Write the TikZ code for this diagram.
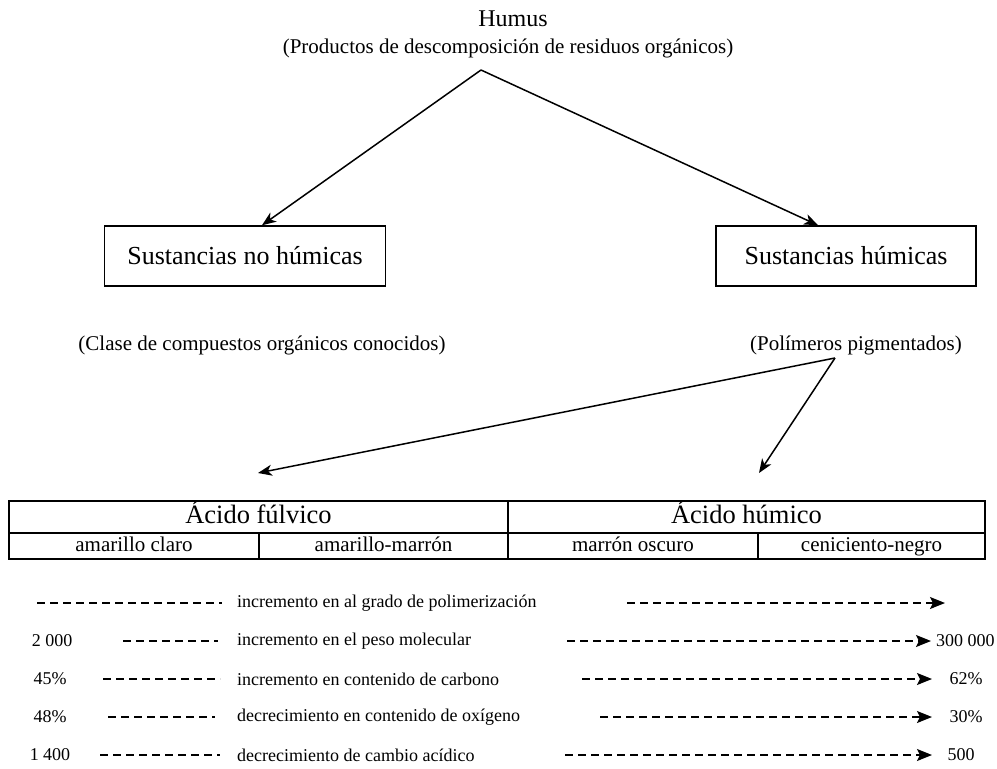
\documentclass[tikz,border=0pt]{standalone}
\usepackage{fontspec}
\setmainfont{Liberation Serif}
\usetikzlibrary{arrows.meta}
\begin{document}
\begin{tikzpicture}[x=1pt,y=-1pt,
  arr/.style={line width=1.5pt, -{Stealth[length=14pt,width=11pt,inset=4pt]}},
  dsh/.style={line width=1.4pt, dash pattern=on 8pt off 5pt},
  darr/.style={dsh, -{Stealth[length=15pt,width=12pt,inset=3pt]}},
  box/.style={draw, line width=1.5pt, minimum height=60pt, inner sep=0pt, font=\fontsize{26}{30}\selectfont},
  cellA/.style={draw, line width=1.5pt, minimum height=32pt, inner sep=0pt, text height=19pt, text depth=6pt, font=\fontsize{26.5}{30}\selectfont},
  cellB/.style={draw, line width=1.5pt, minimum height=26pt, inner sep=0pt, text height=15pt, text depth=5pt, font=\fontsize{21}{24}\selectfont},
  sub/.style={font=\fontsize{21}{24}\selectfont, inner sep=0pt},
  lst/.style={font=\fontsize{18}{20}\selectfont, inner sep=0pt},
]
\useasboundingbox (0,0) rectangle (997,769);

\node[font=\fontsize{24}{28}\selectfont, inner sep=0pt] (humus) at (513,19) {Humus};
\node[sub] (prod) at (508,48) {(Productos de descomposición de residuos orgánicos)};
\coordinate (apex) at (481,70);

\node[box, minimum width=281pt] (b1) at (245,256) {Sustancias no húmicas};
\node[box, minimum width=260pt] (b2) at (846,256) {Sustancias húmicas};
\draw[arr] (apex) -- ([xshift=17pt]b1.north);
\draw[arr] (apex) -- ([xshift=-28pt]b2.north);

\node[sub] (clase) at (262,345) {(Clase de compuestos orgánicos conocidos)};
\node[sub] (polim) at (856,345) {(Polímeros pigmentados)};
\coordinate (apex2) at (835,358);
\coordinate (tipf) at (258,473);
\coordinate (tiph) at (759,473);
\draw[arr] (apex2) -- (tipf);
\draw[arr] (apex2) -- (tiph);

\node[cellA, minimum width=499pt] (fulv) at (258.5,517) {Ácido fúlvico};
\node[cellA, minimum width=477pt] (hum) at (746.5,517) {Ácido húmico};
\node[cellB, minimum width=250pt] (c1) at (134,546) {amarillo claro};
\node[cellB, minimum width=249pt] (c2) at (383.5,546) {amarillo-marrón};
\node[cellB, minimum width=250pt] (c3) at (633,546) {marrón oscuro};
\node[cellB, minimum width=227pt] (c4) at (871.5,546) {ceniciento-negro};

% row 1
\coordinate (l1a) at (37,603); \coordinate (l1b) at (222,603);
\draw[dsh] (l1a) -- (l1b);
\node[lst, anchor=west] (t1) at (237,603) {incremento en al grado de polimerización};
\coordinate (r1a) at (627,603); \coordinate (r1b) at (945,603);
\draw[darr] (r1a) -- (r1b);
% row 2
\node[lst] (v2) at (52,641) {2 000};
\coordinate (l2a) at (123,641); \coordinate (l2b) at (218,641);
\draw[dsh] (l2a) -- (l2b);
\node[lst, anchor=west] (t2) at (237,641) {incremento en el peso molecular};
\node[lst, anchor=west] (w2) at (936,641) {300 000};
\coordinate (r2a) at (567,641);
\draw[darr] (r2a) -- ([xshift=-5pt]w2.west);
% row 3
\node[lst] (v3) at (50,679) {45\%};
\coordinate (l3a) at (103,679); \coordinate (l3b) at (220,679);
\draw[dsh] (l3a) -- (l3b);
\node[lst, anchor=west] (t3) at (237,679) {incremento en contenido de carbono};
\node[lst] (w3) at (966,679) {62\%};
\coordinate (r3a) at (582,679); \coordinate (r3b) at (932,679);
\draw[darr] (r3a) -- (r3b);
% row 4
\node[lst] (v4) at (50,717) {48\%};
\coordinate (l4a) at (108,717); \coordinate (l4b) at (215,717);
\draw[dsh] (l4a) -- (l4b);
\node[lst, anchor=west] (t4) at (237,717) {decrecimiento en contenido de oxígeno};
\node[lst] (w4) at (966,717) {30\%};
\coordinate (r4a) at (600,717); \coordinate (r4b) at (932,717);
\draw[darr] (r4a) -- (r4b);
% row 5
\node[lst] (v5) at (50,755) {1 400};
\coordinate (l5a) at (100,755); \coordinate (l5b) at (220,755);
\draw[dsh] (l5a) -- (l5b);
\node[lst, anchor=west] (t5) at (237,755) {decrecimiento de cambio acídico};
\node[lst] (w5) at (961,755) {500};
\coordinate (r5a) at (565,755); \coordinate (r5b) at (932,755);
\draw[darr] (r5a) -- (r5b);
\end{tikzpicture}
\end{document}
